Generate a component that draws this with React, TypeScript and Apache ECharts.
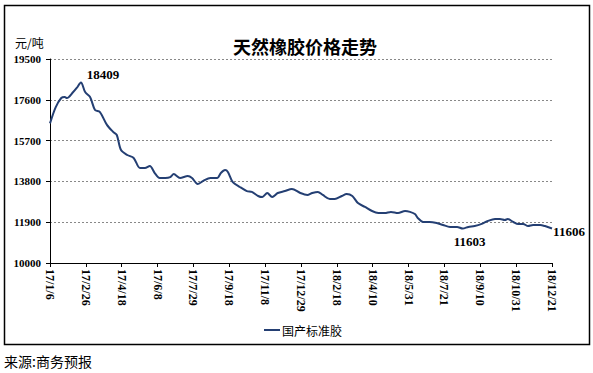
import React, { useEffect, useRef } from "react";
import * as echarts from "echarts";

// days since 2017-01-06
const dayOffsets = [
  0, 8, 16, 21, 24, 33, 38, 44, 50, 57, 64, 71, 81, 90, 95, 101, 110, 119, 128, 135,
  142, 149, 156, 164, 171, 176, 185, 196, 202, 210, 218, 228, 238, 243, 249, 253, 260, 270, 280, 287,
  296, 302, 309, 316, 324, 334, 344, 356, 366, 373, 381, 388, 398, 405, 415, 422, 430, 438, 448, 458,
  467, 476, 485, 495, 505, 512, 519, 523, 531, 540, 550, 559, 569, 579, 587, 595, 604, 614, 623, 633,
  640, 647, 651, 659, 666, 673, 680, 687, 697, 704, 714,
];
const prices = [
  16500, 17250, 17684, 17730, 17680, 17960, 18150, 18409, 17960, 17730, 17125, 17030, 16430, 16100, 15960, 15260, 15030, 14890, 14420, 14420,
  14520, 14190, 13960, 13960, 14000, 14140, 13960, 14050, 13960, 13680, 13820, 13960, 13960, 14190, 14330, 14240, 13770, 13540, 13350, 13310,
  13120, 13070, 13260, 13070, 13260, 13350, 13450, 13260, 13170, 13260, 13310, 13170, 12980, 12980, 13120, 13210, 13120, 12790, 12610, 12420,
  12330, 12330, 12380, 12330, 12420, 12380, 12280, 12100, 11910, 11910, 11860, 11770, 11680, 11680, 11603, 11680, 11720, 11820, 11960, 12050,
  12050, 12000, 12050, 11910, 11820, 11820, 11720, 11770, 11770, 11720, 11606,
];
const xTickLabels = [
  "17/1/6", "17/2/26", "17/4/18", "17/6/8", "17/7/29", "17/9/18", "17/11/8", "17/12/29",
  "18/2/18", "18/4/10", "18/5/31", "18/7/21", "18/9/10", "18/10/31", "18/12/21",
];
const tickStepDays = 51;
const yMin = 10000;
const yMax = 19500;
const yStep = 1900;
const seriesName = "国产标准胶";
const title = "天然橡胶价格走势";
const unit = "元/吨";
const source = "来源:商务预报";
const peakIdx = 7;
const lowIdx = 74;
const lastIdx = prices.length - 1;

export default function App() {
  const ref = useRef<HTMLDivElement>(null);
  useEffect(() => {
    if (!ref.current) return;
    const chart = echarts.init(ref.current, null, { renderer: "svg" });
    const data = dayOffsets.map((d, i) => [d, prices[i] - yMin]);
    const serif = "'Liberation Serif', 'Times New Roman', serif";
    const cjk = "'Noto Sans CJK SC', sans-serif";
    const mp = (idx: number, offset: number[]) => ({
      coord: [dayOffsets[idx], prices[idx] - yMin],
      value: prices[idx],
      symbolSize: 0,
      label: {
        show: true,
        formatter: String(prices[idx]),
        offset,
        fontFamily: serif,
        fontWeight: "bold",
        fontSize: 13,
        color: "#000",
      },
    });
    chart.setOption({
      animation: false,
      backgroundColor: "#fff",
      title: {
        text: title,
        left: 300,
        textAlign: "center",
        top: 32,
        textStyle: { fontFamily: cjk, fontSize: 18, fontWeight: "bold", color: "#000" },
      },
      grid: { left: 50, right: 41, top: 59, bottom: 110, containLabel: false },
      xAxis: {
        type: "value",
        min: 0,
        max: tickStepDays * (xTickLabels.length - 1),
        interval: tickStepDays,
        axisLine: { show: true, onZero: false, lineStyle: { color: "#000", width: 1 } },
        axisTick: { show: true, length: 4, lineStyle: { color: "#000" } },
        splitLine: { show: false },
        axisLabel: {
          rotate: -90,
          margin: 6,
          fontFamily: serif,
          fontWeight: "bold",
          fontSize: 12,
          color: "#000",
          formatter: (v: number) => xTickLabels[Math.round(v / tickStepDays)] ?? "",
        },
      },
      yAxis: {
        type: "value",
        min: 0,
        max: yMax - yMin,
        interval: yStep,
        axisLine: { show: true, lineStyle: { color: "#000", width: 1 } },
        axisTick: { show: true, length: 4, lineStyle: { color: "#000" } },
        splitLine: { show: true, lineStyle: { color: "#888", type: [2, 2], width: 1 } },
        axisLabel: {
          margin: 9,
          fontFamily: serif,
          fontWeight: "bold",
          fontSize: 11,
          color: "#000",
          formatter: (v: number) => String(v + yMin),
        },
      },
      legend: {
        show: true,
        left: 259,
        top: 319,
        itemWidth: 16,
        itemHeight: 2,
        itemGap: 2,
        icon: "rect",
        textStyle: { fontFamily: cjk, fontSize: 12, color: "#000", padding: [0, 0, 0, -3] },
        data: [seriesName],
      },
      series: [
        {
          name: seriesName,
          type: "line",
          data,
          smooth: 0.3,
          showSymbol: false,
          symbol: "none",
          lineStyle: { color: "#243F73", width: 2 },
          itemStyle: { color: "#243F73" },
          markPoint: {
            symbol: "circle",
            symbolSize: 0,
            data: [mp(peakIdx, [22, -8]), mp(lowIdx, [7, 13]), mp(lastIdx, [17, 3])],
          },
        },
      ],
      graphic: [
        {
          type: "rect",
          shape: { x: 4.5, y: 5.5, width: 585, height: 339 },
          style: { fill: "none", stroke: "#000", lineWidth: 1.5 },
          silent: true,
        },
        {
          type: "text",
          left: 15,
          top: 36,
          style: { text: unit, fontFamily: cjk, fontSize: 12, fill: "#000" },
        },
        {
          type: "text",
          left: 4,
          top: 354,
          style: { text: source, fontFamily: cjk, fontSize: 14, fill: "#000" },
        },
      ],
    });
    return () => chart.dispose();
  }, []);
  return (
    <div
      ref={ref}
      style={{ position: "absolute", left: 0, top: 0, width: 593, height: 373 }}
    />
  );
}
